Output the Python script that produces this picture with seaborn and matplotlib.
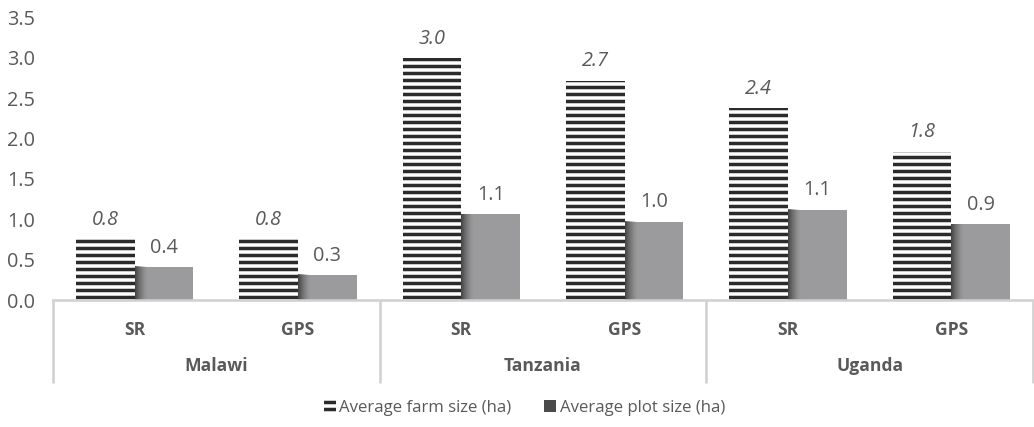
import matplotlib
matplotlib.use("Agg")
import matplotlib.pyplot as plt
import matplotlib.transforms as mtransforms
from matplotlib.patches import Patch
import numpy as np
import pandas as pd
import seaborn as sns

# Survey countries and the two area-measurement methods (self-reported vs GPS)
countries = ["Malawi", "Tanzania", "Uganda"]
methods = ["SR", "GPS"]
series = ["Average farm size (ha)", "Average plot size (ha)"]

# Values per country/method, in the order Malawi SR, Malawi GPS, Tanzania SR, ...
farm_size = [0.75, 0.75, 3.00, 2.72, 2.38, 1.84]
plot_size = [0.41, 0.31, 1.06, 0.97, 1.12, 0.94]

y_ticks = [0.0, 0.5, 1.0, 1.5, 2.0, 2.5, 3.0, 3.5]

TEXT = "#595959"
AXIS = "#d0d0d0"
STRIPE = "#2b2b2b"
PLOT_GREY = "#9b9b9d"

sns.set_theme(style="white")
plt.rcParams["font.family"] = ["Open Sans", "DejaVu Sans"]
plt.rcParams["hatch.linewidth"] = 3.0

slots = [f"{c}|{m}" for c in countries for m in methods]
df = pd.DataFrame({
    "slot": slots * 2,
    "series": [series[0]] * len(slots) + [series[1]] * len(slots),
    "value": farm_size + plot_size,
})

DPI = 84
W, H = 1034, 427
fig = plt.figure(figsize=(W / DPI, H / DPI), dpi=DPI)
ax = fig.add_axes([53 / W, 127 / H, 980 / W, 282.4 / H])

sns.barplot(
    data=df, x="slot", y="value", hue="series",
    order=slots, hue_order=series,
    palette={series[0]: "white", series[1]: PLOT_GREY},
    width=0.72, gap=0, saturation=1, linewidth=0,
    legend=False, ax=ax,
)

# Horizontal stripes on the farm-size bars
for bar in ax.containers[0]:
    bar.set_hatch("--")
    bar.set_edgecolor(STRIPE)
    bar.set_linewidth(0)

# Soft shadow along the left edge of the plot-size bars
shade = np.zeros((1, 64, 4))
shade[..., :3] = 0.2
shade[0, :, 3] = np.linspace(0.9, 0.0, 64) ** 1.5
for bar in ax.containers[1]:
    x0, w, h = bar.get_x(), bar.get_width(), bar.get_height()
    ax.imshow(shade, extent=[x0, x0 + 0.22 * w, 0, h], aspect="auto",
              interpolation="bilinear", zorder=bar.get_zorder() + 0.1)

FS = 17
ax.bar_label(ax.containers[0], fmt="{:.1f}", padding=8, color=TEXT,
             fontsize=FS, fontstyle="italic")
ax.bar_label(ax.containers[1], fmt="{:.1f}", padding=8, color=TEXT,
             fontsize=FS)

ax.set_xlim(-0.5, len(slots) - 0.5)
ax.set_ylim(0, 3.5)
ax.set_yticks(y_ticks)
ax.set_yticklabels([f"{t:.1f}" for t in y_ticks])
ax.set_xticks(range(len(slots)))
ax.set_xticklabels(methods * len(countries), fontweight="bold")
ax.tick_params(axis="y", length=0, pad=15, labelcolor=TEXT, labelsize=FS)
ax.tick_params(axis="x", length=0, pad=18, labelcolor=TEXT, labelsize=15)
ax.set_xlabel("")
ax.set_ylabel("")
ax.grid(False)

for side in ("left", "right", "top"):
    ax.spines[side].set_visible(False)
ax.spines["bottom"].set_color(AXIS)
ax.spines["bottom"].set_linewidth(2.2)

# Second category level: country names with separators between groups
trans = mtransforms.blended_transform_factory(ax.transData, ax.transAxes)
n = len(methods)
for i in range(len(countries) + 1):
    xb = i * n - 0.5
    ax.plot([xb, xb], [0, -0.294], transform=trans, color=AXIS, lw=2.2,
            clip_on=False, solid_capstyle="butt")
for i, c in enumerate(countries):
    xc = i * n + (n - 1) / 2
    ax.text(xc, -0.235, c, transform=trans, ha="center", va="center",
            color=TEXT, fontsize=15, fontweight="bold")

handles = [
    Patch(facecolor="white", edgecolor=STRIPE, hatch="--", linewidth=0),
    Patch(facecolor="#4a4a4a", linewidth=0),
]
fig.legend(handles, series, loc="center", bbox_to_anchor=(0.507, 1 - 408 / H),
           ncol=2, frameon=False, handlelength=0.75, handleheight=0.75,
           handletextpad=0.2, columnspacing=1.9, fontsize=14.4,
           labelcolor=TEXT)

fig.savefig("out.png", dpi=DPI)
